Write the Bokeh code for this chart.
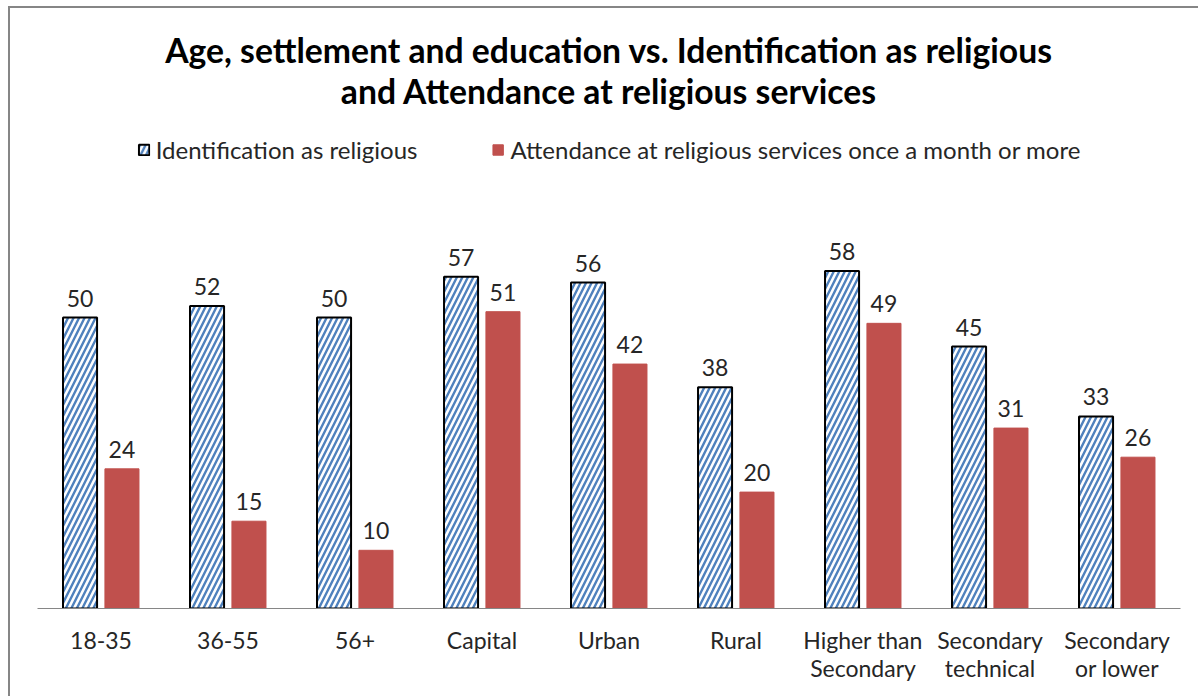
from bokeh.plotting import figure
from bokeh.models import FactorRange, Legend, LegendItem, ColumnDataSource, Label
from bokeh.transform import dodge
from bokeh.core.properties import value
from bokeh.embed import file_html
from bokeh.resources import INLINE

categories = ["18-35", "36-55", "56+", "Capital", "Urban", "Rural",
              "Higher than\nSecondary", "Secondary\ntechnical", "Secondary\nor lower"]
identification = [50, 52, 50, 57, 56, 38, 58, 45, 33]
attendance = [24, 15, 10, 51, 42, 20, 49, 31, 26]
series_names = ["Identification as religious",
                "Attendance at religious services once a month or more"]
title_lines = ["Age, settlement and education vs. Identification as religious",
               "and Attendance at religious services"]

FONT = "Lato"
BLUE = "#4F81BD"
RED = "#C0504D"
TXT = "#262626"

W, H = 1190, 690
LEFT, RIGHT, TOP, BOTTOM = 27, 20, 0, 90
FRAME_W, FRAME_H = W - LEFT - RIGHT, H - TOP - BOTTOM

src = ColumnDataSource(dict(
    cat=categories,
    ident=identification,
    att=attendance,
    ident_lbl=[str(v) for v in identification],
    att_lbl=[str(v) for v in attendance],
))

p = figure(x_range=FactorRange(*categories), y_range=(0, 103.1),
           width=W, height=H, title=None,
           min_border_left=LEFT, min_border_right=RIGHT, min_border_bottom=BOTTOM,
           min_border_top=TOP,
           output_backend="svg", toolbar_location=None, y_axis_location=None)
p.outline_line_color = None
p.xgrid.visible = False
p.ygrid.visible = False

r1 = p.vbar(x=dodge("cat", -0.165, range=p.x_range), top="ident", width=0.268, source=src,
            fill_color="white", hatch_pattern="/", hatch_color=BLUE, hatch_weight=2.4,
            hatch_scale=11, line_color="black", line_width=2)
r2 = p.vbar(x=dodge("cat", 0.165, range=p.x_range), top="att", width=0.268, source=src,
            fill_color=RED, line_color=RED, line_width=1)

p.text(x=dodge("cat", -0.165, range=p.x_range), y="ident", text="ident_lbl", source=src,
       y_offset=-11, text_align="center", text_baseline="bottom",
       text_font=value(FONT), text_font_size="23px", text_color=TXT)
p.text(x=dodge("cat", 0.165, range=p.x_range), y="att", text="att_lbl", source=src,
       y_offset=-11, text_align="center", text_baseline="bottom",
       text_font=value(FONT), text_font_size="23px", text_color=TXT)

ax = p.xaxis[0]
ax.axis_line_color = "#868686"
ax.axis_line_width = 1
ax.major_tick_line_color = None
ax.minor_tick_line_color = None
ax.major_tick_out = 0
ax.major_tick_in = 0
ax.major_label_standoff = 17
ax.major_label_text_font = FONT
ax.major_label_text_font_size = "23px"
ax.major_label_text_color = TXT
ax.major_label_text_line_height = 1.0

legend = Legend(items=[LegendItem(label=series_names[0], renderers=[r1]),
                       LegendItem(label=series_names[1], renderers=[r2])],
                orientation="horizontal", location="top_center",
                label_text_font=FONT, label_text_font_size="24px", label_text_color=TXT,
                glyph_width=13, glyph_height=13, label_standoff=6, spacing=74,
                padding=10, margin=127, border_line_color=None, background_fill_alpha=0,
                label_height=24)
p.add_layout(legend)

# two-line chart title, placed in screen units inside the top of the frame
for line, baseline in zip(title_lines, [41, 82.5]):
    p.add_layout(Label(x=FRAME_W / 2, y=FRAME_H - baseline, x_units="screen", y_units="screen",
                       text=line, text_align="center", text_baseline="alphabetic",
                       text_font=FONT, text_font_size="33.7px", text_font_style="bold",
                       text_color="black"))

p.styles = {"margin-left": "8px", "margin-top": "6px",
            "border-left": "2px solid #868686", "border-top": "2px solid #868686"}

open("out.html", "w").write(file_html(p, INLINE))
